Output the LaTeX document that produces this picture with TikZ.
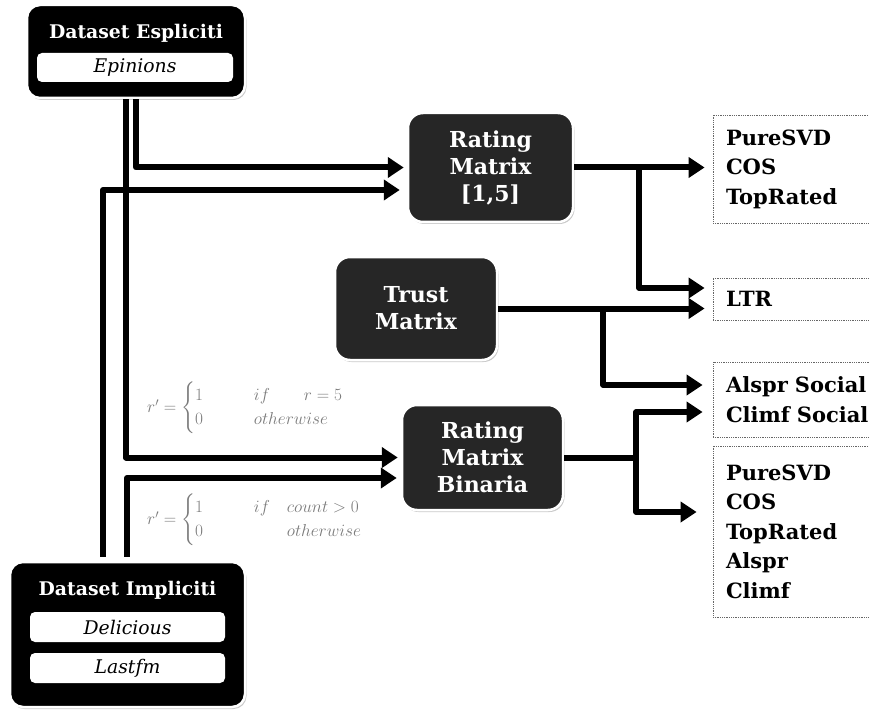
\documentclass[tikz,border=0pt]{standalone}
\usepackage{amsmath}
\usepackage{fontspec}
\setmainfont{DejaVu Serif}
\usetikzlibrary{arrows.meta,shadows,calc}
\definecolor{boxgray}{HTML}{262626}
\definecolor{formgray}{HTML}{7A7A7A}
\begin{document}
\begin{tikzpicture}[x=1pt,y=-1pt,
  shad/.style={drop shadow={shadow xshift=1.5pt,shadow yshift=-2pt,opacity=0.35,fill=black!60}},
  datasetbox/.style={draw=white,line width=2.5pt,fill=black,rounded corners=13pt,shad,inner sep=0pt},
  dsname/.style={text=white,font=\bfseries\fontsize{18.8}{22}\selectfont,inner sep=0pt},
  dsitem/.style={fill=white,rounded corners=5pt,text=black,font=\itshape\fontsize{18.8}{22}\selectfont,inner sep=0pt,minimum width=196pt,minimum height=29pt},
  matbox/.style={draw=white,line width=2.5pt,fill=boxgray,rounded corners=15pt,shad,text=white,
     font=\bfseries\fontsize{22}{27}\selectfont,align=center,inner sep=0pt},
  outbox/.style={draw=black!60,densely dotted,line width=0.8pt,fill=white,text=black,
     font=\bfseries\fontsize{21}{29.5}\selectfont,align=left,text width=146pt,inner xsep=13pt,inner ysep=0pt,minimum width=172pt},
  conn/.style={line width=6pt,line join=round,-{Triangle[length=16pt,width=20pt]}},
  form/.style={text=formgray,font=\fontsize{17}{20}\selectfont,anchor=west,inner sep=0pt}]
\useasboundingbox (0,0) rectangle (869,711);
\clip (0,0) rectangle (869,711);

% dataset boxes
\node[datasetbox,minimum width=218pt,minimum height=93pt] (esp) at (136,51.5) {};
\node[dsname] (esptitle) at (136,33) {Dataset Espliciti};
\node[dsitem] (epinions) at (135,67.5) {Epinions};

\node[datasetbox,minimum width=235pt,minimum height=145pt] (imp) at (127.5,634.5) {};
\node[dsname] (imptitle) at (127.5,590) {Dataset Impliciti};
\node[dsitem,minimum width=195pt,minimum height=30pt] (delicious) at (127.5,627) {Delicious};
\node[dsitem,minimum width=195pt,minimum height=30pt] (lastfm) at (127.5,668) {Lastfm};

% matrices
\node[matbox,minimum width=165pt,minimum height=109pt] (rm) at (490.5,167.5) {Rating\\Matrix\\{[}1,5{]}};
\node[matbox,minimum width=162pt,minimum height=103pt] (trust) at (416,308.5) {Trust\\Matrix};
\node[matbox,minimum width=161pt,minimum height=105pt] (rmb) at (482.5,457.5) {Rating\\Matrix\\Binaria};

% outputs
\node[outbox,minimum height=108pt] (out1) at (799,169) {PureSVD\\COS\\TopRated};
\node[outbox,minimum height=42pt] (ltr) at (799,299) {LTR};
\node[outbox,minimum height=75pt] (out3) at (799,399.5) {Alspr Social\\Climf Social};
\node[outbox,minimum height=171pt] (out4) at (799,531.5) {PureSVD\\COS\\TopRated\\Alspr\\Climf};

% formulas
\node[form] (f1) at (147,408) {$r' = \begin{cases} 1 & \qquad if \qquad r=5\\ 0 & \qquad otherwise\end{cases}$};
\node[form] (f2) at (147,520) {$r' = \begin{cases} 1 & \qquad if\quad count > 0 \\ 0 & \qquad \phantom{if\quad}otherwise\end{cases}$};

% connectors from datasets
\draw[conn,shorten >=3pt] (esp.south) |- ([yshift=0pt]rm.west);
\draw[conn,shorten >=3pt] ([xshift=-10pt]esp.south) |- (rmb.west);
\draw[conn,shorten <=4pt,shorten >=7pt] ([xshift=-24.5pt]imp.north) |- ([yshift=-22.5pt]rm.west);
\draw[conn,shorten <=4pt,shorten >=4pt] ([xshift=-0.5pt]imp.north) |- ([yshift=-20.5pt]rmb.west);

% from rating matrix
\coordinate (j1) at ([xshift=65pt]rm.east);
\draw[conn,shorten >=8pt] (rm.east) -- (rm.east -| out1.west);
\draw[conn,shorten >=8pt] (j1) |- ([yshift=11pt]ltr.west);

% from trust
\coordinate (j2) at ([xshift=105pt]trust.east);
\draw[conn,shorten >=8pt] (trust.east) -- (trust.east -| ltr.west);
\draw[conn,shorten >=10pt] (j2) |- ([yshift=14.5pt]out3.west);

% from binaria
\coordinate (j3) at ([xshift=72pt]rmb.east);
\draw[line width=6pt] (rmb.east) -- (j3);
\draw[conn,shorten >=10pt] (j3) |- ([yshift=-12.5pt]out3.west);
\draw[conn,shorten >=16pt] (j3) |- ([yshift=19.5pt]out4.west);
\end{tikzpicture}
\end{document}
